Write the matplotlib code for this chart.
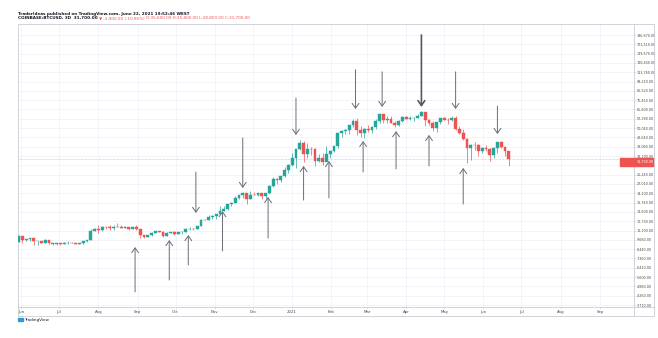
import numpy as np
import pandas as pd
import matplotlib
matplotlib.use("Agg")
import matplotlib.pyplot as plt
import matplotlib.dates as mdates
from matplotlib.lines import Line2D
from matplotlib.patches import Rectangle

# BTCUSD 3-day candles, prices in thousands of USD
first_open = 9.43
closes = [10.20, 9.67, 9.76, 9.88, 9.47, 9.53, 9.30, 9.68, 9.25, 9.12,
          9.23, 9.13, 9.25, 9.28, 9.24, 9.13, 9.20, 9.53, 9.70, 10.95,
          11.33, 11.23, 11.76, 11.68, 11.57, 11.77, 11.76, 11.54, 11.76, 11.37,
          11.71, 11.40, 10.45, 10.12, 10.40, 10.68, 10.94, 10.92, 10.24, 10.73,
          10.84, 10.56, 10.79, 10.92, 11.38, 11.43, 11.36, 11.91, 12.93, 13.03,
          13.46, 13.74, 14.15, 14.83, 15.31, 16.32, 16.72, 17.81, 18.68, 19.15,
          17.73, 18.80, 18.65, 19.20, 18.55, 19.15, 21.35, 23.82, 23.48, 24.70,
          27.05, 28.99, 32.13, 36.82, 40.15, 33.95, 36.80, 36.63, 30.80, 32.30,
          30.40, 34.30, 35.50, 38.30, 46.40, 48.00, 48.70, 52.15, 55.90, 48.80,
          46.30, 49.60, 48.40, 51.20, 55.90, 61.20, 56.00, 57.60, 54.10, 52.40,
          55.80, 58.80, 57.10, 58.10, 58.10, 59.80, 63.10, 56.20, 53.80, 50.10,
          55.00, 57.80, 56.60, 56.40, 58.20, 49.20, 46.40, 42.90, 37.30, 39.30,
          39.20, 35.70, 37.60, 36.90, 33.60, 37.30, 40.50, 38.10, 35.60, 31.70]
highs = [10.43, 10.23, 9.85, 9.99, 9.96, 9.55, 9.56, 9.78, 9.70, 9.24,
         9.30, 9.27, 9.37, 9.45, 9.33, 9.28, 9.22, 9.55, 9.72, 11.39,
         11.45, 12.12, 11.80, 11.90, 12.07, 11.95, 12.47, 12.00, 11.82, 11.77,
         11.73, 12.08, 11.40, 10.40, 10.46, 10.80, 11.09, 11.05, 10.99, 10.80,
         10.88, 10.95, 10.80, 10.95, 11.44, 11.72, 11.53, 11.92, 13.20, 13.20,
         13.85, 13.93, 14.24, 15.96, 15.84, 16.48, 16.88, 18.48, 18.80, 19.48,
         19.35, 19.90, 19.60, 19.40, 19.30, 19.20, 21.55, 24.25, 24.10, 24.80,
         28.40, 29.30, 34.78, 36.95, 41.95, 41.40, 40.10, 37.95, 37.40, 34.00,
         34.90, 38.50, 36.00, 38.70, 46.80, 48.65, 49.70, 52.60, 57.50, 58.35,
         51.40, 49.80, 52.60, 51.80, 57.40, 61.70, 61.50, 60.00, 59.90, 55.80,
         56.60, 59.80, 60.00, 59.50, 58.90, 61.30, 64.80, 63.60, 57.60, 55.40,
         55.00, 57.90, 58.90, 58.40, 59.50, 59.60, 51.30, 49.70, 43.50, 39.80,
         40.80, 39.50, 38.00, 39.30, 37.30, 38.00, 41.00, 41.30, 38.20, 35.80]
lows = [9.38, 9.27, 9.50, 9.57, 9.03, 8.92, 9.22, 9.20, 9.06, 8.94,
        9.03, 8.97, 9.06, 9.14, 9.18, 9.05, 9.09, 9.15, 9.42, 9.65,
        10.95, 10.65, 11.10, 11.35, 11.15, 11.20, 11.70, 11.45, 11.50, 11.15,
        11.30, 11.20, 9.87, 9.88, 10.12, 10.25, 10.64, 10.80, 10.15, 10.20,
        10.65, 10.37, 10.50, 10.53, 10.88, 11.25, 11.25, 11.35, 11.90, 12.88,
        12.95, 13.20, 13.24, 14.10, 14.80, 15.10, 15.80, 16.70, 17.75, 18.00,
        16.33, 17.60, 18.60, 18.50, 17.65, 17.55, 18.95, 21.20, 21.90, 22.70,
        24.55, 26.00, 28.60, 27.70, 36.30, 30.30, 32.40, 33.85, 28.85, 30.60,
        29.25, 31.90, 32.20, 35.40, 37.40, 43.70, 46.20, 46.00, 50.90, 45.00,
        44.20, 43.00, 47.10, 46.30, 49.30, 54.20, 54.00, 53.60, 53.70, 50.50,
        51.40, 55.00, 56.90, 56.50, 55.50, 57.90, 59.80, 51.50, 52.40, 48.20,
        47.00, 53.00, 56.00, 53.00, 55.30, 48.60, 46.00, 42.20, 30.00, 31.10,
        36.40, 33.40, 34.60, 35.60, 31.00, 32.40, 34.70, 37.40, 33.40, 28.80]

# arrows drawn on the chart: date, tail price, head price
up_dates = ["2020-08-30", "2020-09-26", "2020-10-11", "2020-11-07", "2020-12-13",
            "2021-01-10", "2021-01-30", "2021-02-26", "2021-03-24", "2021-04-19",
            "2021-05-16"]
up_tail = [4500, 5360, 6690, 8210, 9940, 17370, 17920, 26240, 27430, 28680, 16390]
up_head = [8700, 9650, 10390, 14780, 18170, 28680, 30860, 41420, 47930, 45240, 27850]
down_dates = ["2020-10-17", "2020-11-23", "2021-01-04", "2021-02-20", "2021-03-13",
              "2021-04-13", "2021-05-10", "2021-06-12"]
down_tail = [26240, 43300, 77900, 117900, 114500, 196800, 114500, 69150]
down_head = [14360, 20730, 45240, 66220, 68300, 68300, 66220, 45850]

price_ticks = [3710, 4260, 4880, 5600, 6420, 7360, 8440, 9680, 11100, 12730,
               14600, 16740, 19200, 22010, 25240, 28940, 33190, 38060, 43640, 50040,
               57380, 65800, 75450, 86520, 99210, 113760, 130440, 149570, 171510, 196670]
month_ticks = ["2020-06-01", "2020-07-01", "2020-08-01", "2020-09-01", "2020-10-01",
               "2020-11-01", "2020-12-01", "2021-01-01", "2021-02-01", "2021-03-01",
               "2021-04-01", "2021-05-01", "2021-06-01", "2021-07-01", "2021-08-01",
               "2021-09-01"]
month_labels = ["Jun", "Jul", "Aug", "Sep", "Oct", "Nov", "Dec", "2021", "Feb", "Mar",
                "Apr", "May", "Jun", "Jul", "Aug", "Sep"]

GREEN = "#26a69a"
RED = "#ef5350"
BORDER = "#c9ccd4"
TXT = "#4a4a4a"

c = np.array(closes) * 1000
h = np.array(highs) * 1000
l = np.array(lows) * 1000
o = np.concatenate([[first_open * 1000], c[:-1]])
x = mdates.date2num(pd.date_range("2020-05-30", periods=len(c), freq="3D"))
cols = [GREEN if cc >= oo else RED for oo, cc in zip(o, c)]

W, H = 658, 338
fig = plt.figure(figsize=(W / 100, H / 100), dpi=100)
fig.patch.set_facecolor("white")
ax = fig.add_axes([18 / W, 31 / H, 616 / W, 283 / H])
ax.set_yscale("log")
ax.set_ylim(3604, 231300)
x0 = mdates.date2num(pd.Timestamp("2020-06-01"))
ax.set_xlim(x0 - 2.4, x0 + 483.8)

# grid
xt = mdates.date2num(pd.to_datetime(month_ticks))
for v in price_ticks:
    ax.axhline(v, color="#f0f3fa", lw=0.6, zorder=0)
for v in xt:
    ax.axvline(v, color="#f0f3fa", lw=0.6, zorder=0)

# last price line
ax.axhline(c[-1], color=RED, lw=0.5, ls=(0, (1, 1)), alpha=0.5, zorder=1)

# candles
ax.vlines(x, l, h, colors=cols, lw=0.5, zorder=2)
ax.bar(x, np.abs(c - o), bottom=np.minimum(o, c), width=2.2, color=cols,
       edgecolor=cols, lw=0.3, zorder=3)

# arrows
for d, t, hd in zip(up_dates, up_tail, up_head):
    xd = mdates.date2num(pd.Timestamp(d))
    ax.annotate("", xy=(xd, hd), xytext=(xd, t),
                arrowprops=dict(arrowstyle="->, head_length=0.5, head_width=0.35",
                                color="#6a6d75", lw=0.7, mutation_scale=7,
                                shrinkA=0, shrinkB=0), zorder=4)
for d, t, hd in zip(down_dates, down_tail, down_head):
    xd = mdates.date2num(pd.Timestamp(d))
    big = d == "2021-04-13"
    ax.annotate("", xy=(xd, hd), xytext=(xd, t),
                arrowprops=dict(arrowstyle="->, head_length=0.5, head_width=0.35",
                                color="#55585f" if big else "#6a6d75",
                                lw=1.2 if big else 0.7, mutation_scale=7,
                                shrinkA=0, shrinkB=0), zorder=4)

# axes styling
ax.yaxis.tick_right()
ax.yaxis.set_minor_locator(matplotlib.ticker.NullLocator())
ax.set_yticks(price_ticks)
ax.set_yticklabels([f"{v:,.2f}" for v in price_ticks])
ax.set_xticks(xt)
ax.set_xticklabels(month_labels)
ax.tick_params(axis="y", labelsize=2.4, colors=TXT, length=1.2, width=0.4, pad=0.8,
               color=BORDER)
ax.tick_params(axis="x", labelsize=2.8, colors=TXT, length=1.5, width=0.4, pad=1,
               color=BORDER)
for s in ax.spines.values():
    s.set_color(BORDER)
    s.set_linewidth(0.6)


def fline(x1, y1, x2, y2):
    fig.add_artist(Line2D([x1 / W, x2 / W], [1 - y1 / H, 1 - y2 / H],
                          transform=fig.transFigure, color=BORDER, lw=0.6))


fline(634, 24, 654, 24)
fline(654, 24, 654, 316)
fline(18, 316, 654, 316)
fline(18, 307, 18, 316)
fline(634, 307, 634, 316)
fline(634, 307, 654, 307)

# last price tag
fig.add_artist(Rectangle((620 / W, 1 - 166 / H), 33 / W, 8 / H,
                         transform=fig.transFigure, color=RED, zorder=5))
fig.text(636.5 / W, 1 - 162 / H, f"{c[-1]:,.2f}", fontsize=2.4, color="white",
         va="center", ha="left", zorder=6)

# header
fig.text(18 / W, 1 - 14 / H, "TraderIdeas published on TradingView.com, June 22, 2021 19:52:46 WEST",
         fontsize=3, color="#131722", va="center", fontweight="bold")
chg = c[-1] - c[-2]
t1 = fig.text(18 / W, 1 - 18 / H,
              f"COINBASE:BTCUSD, 3D  {c[-1]:,.2f} ",
              fontsize=3, color="#131722", va="center", fontweight="bold")
t2 = plt.annotate(f"\u25bc {chg:,.2f} ({chg / c[-2] * 100:.2f}%) ", xy=(1, 0.5),
                  xycoords=t1, va="center", fontsize=3, color=RED)
plt.annotate(f"O:{o[-1]:,.2f} H:{h[-1]:,.2f} L:{l[-1]:,.2f} C:{c[-1]:,.2f}",
             xy=(1, 0.5), xycoords=t2, va="center", fontsize=3, color=RED)

# logo
fig.add_artist(Rectangle((18 / W, 1 - 321 / H), 5 / W, 3 / H,
                         transform=fig.transFigure, color="#2e9ad0"))
fig.text(24 / W, 1 - 319.5 / H, "TradingView", fontsize=3, color="#131722", va="center")

fig.savefig("out.png", dpi=100)
